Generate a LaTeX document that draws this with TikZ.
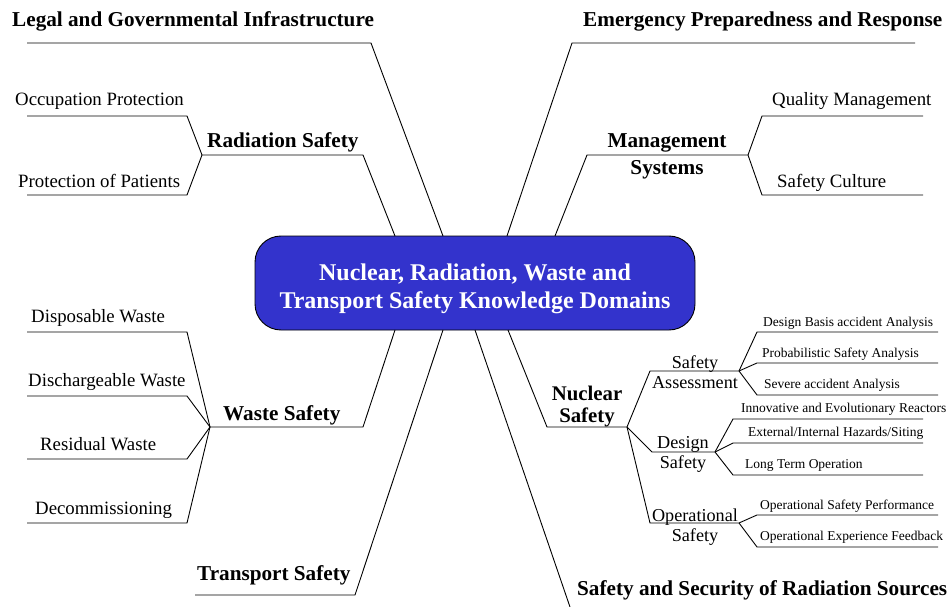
\documentclass[tikz,border=0pt]{standalone}
\usepackage{fontspec}
\setmainfont{Liberation Serif}
\definecolor{boxblue}{HTML}{3333CC}
\tikzset{
  conn/.style={draw=black, line width=0.9pt, line join=miter},
  topic/.style={font=\fontsize{21.2}{24}\selectfont\bfseries, inner sep=0pt},
  leaf/.style={font=\fontsize{18.8}{22}\selectfont, inner sep=0pt},
  subtopic/.style={inner sep=0pt, align=center},
  small/.style={font=\fontsize{13.5}{16}\selectfont, inner sep=0pt},
  centre/.style={draw=black, line width=0.9pt, fill=boxblue, rounded corners=26pt,
    minimum width=440pt, minimum height=94pt, inner sep=0pt},
  centretext/.style={text=white, align=center,
    font=\fontsize{24}{28}\selectfont\bfseries, inner sep=0pt}
}
\begin{document}
\begin{tikzpicture}[x=1pt,y=-1pt]
\useasboundingbox (0,0) rectangle (951,607);

% central node
\node[centre] (box) at (475,283) {};
\node[centretext, anchor=base] (boxtext) at (475,308) {Nuclear, Radiation, Waste and\\Transport Safety Knowledge Domains};

% attachment points on the box
\coordinate (bLegal) at (443,236);
\coordinate (bRad) at (395,236);
\coordinate (bEmer) at (507,236);
\coordinate (bMan) at (555,236);
\coordinate (bWaste) at (395,330);
\coordinate (bTrans) at (443,330);
\coordinate (bNuc) at (508,330);
\coordinate (bSec) at (475,330);

% ---- Legal and Governmental Infrastructure
\node[topic, anchor=base west] (legal) at (12,27) {Legal and Governmental Infrastructure};
\coordinate (legalL) at (27,43);
\coordinate (legalR) at (371,43);
\draw[conn] (bLegal) -- (legalR) -- (legalL);

% ---- Emergency Preparedness and Response
\node[topic, anchor=base west] (emer) at (583,27) {Emergency Preparedness and Response};
\coordinate (emerL) at (572,43);
\coordinate (emerR) at (915,43);
\draw[conn] (bEmer) -- (emerL) -- (emerR);

% ---- Radiation Safety
\node[topic, anchor=base west] (rad) at (207,148) {Radiation Safety};
\coordinate (radL) at (202,155);
\coordinate (radR) at (363,155);
\draw[conn] (bRad) -- (radR) -- (radL);
\node[leaf, anchor=base west] (occ) at (15,106) {Occupation Protection};
\coordinate (occR) at (187,116);
\coordinate (occL) at (27,116);
\draw[conn] (radL) -- (occR) -- (occL);
\node[leaf, anchor=base west] (pat) at (18,187) {Protection of Patients};
\coordinate (patR) at (187,195);
\coordinate (patL) at (27,195);
\draw[conn] (radL) -- (patR) -- (patL);

% ---- Management Systems
\node[topic, align=center, font=\fontsize{21.2}{27}\selectfont\bfseries, anchor=base] (man) at (667,175) {Management\\Systems};
\coordinate (manL) at (587,155);
\coordinate (manR) at (748,155);
\draw[conn] (bMan) -- (manL) -- (manR);
\node[leaf, anchor=base west] (qual) at (772,106) {Quality Management};
\coordinate (qualL) at (762,116);
\coordinate (qualR) at (923,116);
\draw[conn] (manR) -- (qualL) -- (qualR);
\node[leaf, anchor=base west] (cult) at (777,187) {Safety Culture};
\coordinate (cultL) at (762,195);
\coordinate (cultR) at (923,195);
\draw[conn] (manR) -- (cultL) -- (cultR);

% ---- Waste Safety
\node[topic, anchor=base west] (waste) at (223,420) {Waste Safety};
\coordinate (wasteL) at (210,427);
\coordinate (wasteR) at (363,427);
\draw[conn] (bWaste) -- (wasteR) -- (wasteL);
\node[leaf, anchor=base west] (disp) at (31,322) {Disposable Waste};
\coordinate (dispR) at (187,332);
\coordinate (dispL) at (27,332);
\draw[conn] (wasteL) -- (dispR) -- (dispL);
\node[leaf, anchor=base west] (disc) at (28,386) {Dischargeable Waste};
\coordinate (discR) at (187,396);
\coordinate (discL) at (27,396);
\draw[conn] (wasteL) -- (discR) -- (discL);
\node[leaf, anchor=base west] (resid) at (40,450) {Residual Waste};
\coordinate (residR) at (187,459);
\coordinate (residL) at (27,459);
\draw[conn] (wasteL) -- (residR) -- (residL);
\node[leaf, anchor=base west] (decom) at (35,514) {Decommissioning};
\coordinate (decomR) at (187,523);
\coordinate (decomL) at (27,523);
\draw[conn] (wasteL) -- (decomR) -- (decomL);

% ---- Transport Safety
\node[topic, anchor=base west] (trans) at (197,580) {Transport Safety};
\coordinate (transL) at (195,595);
\coordinate (transR) at (355,595);
\draw[conn] (bTrans) -- (transR) -- (transL);

% ---- Safety and Security of Radiation Sources
\node[topic, anchor=base west] (sec) at (577,595) {Safety and Security of Radiation Sources};
\coordinate (secEnd) at (570,607);
\draw[conn] (bSec) -- (secEnd);

% ---- Nuclear Safety
\node[topic, align=center, font=\fontsize{20.8}{22}\selectfont\bfseries, anchor=base] (nuc) at (587,422) {Nuclear\\Safety};
\coordinate (nucL) at (547,427);
\coordinate (nucR) at (627,427);
\draw[conn] (bNuc) -- (nucL) -- (nucR);

% Safety Assessment
\node[subtopic, font=\fontsize{18.2}{20}\selectfont, anchor=base] (sa) at (695,388) {Safety\\Assessment};
\coordinate (saL) at (650,371);
\coordinate (saR) at (739,371);
\draw[conn] (nucR) -- (saL) -- (saR);
\node[small, anchor=base west] (dba) at (763,326) {Design Basis accident Analysis};
\coordinate (dbaL) at (757,332);
\coordinate (dbaR) at (938,332);
\draw[conn] (saR) -- (dbaL) -- (dbaR);
\node[small, anchor=base west] (psa) at (762,357) {Probabilistic Safety Analysis};
\coordinate (psaL) at (757,363);
\coordinate (psaR) at (938,363);
\draw[conn] (saR) -- (psaL) -- (psaR);
\node[small, anchor=base west] (sev) at (764,388) {Severe accident Analysis};
\coordinate (sevL) at (757,395);
\coordinate (sevR) at (938,395);
\draw[conn] (saR) -- (sevL) -- (sevR);

% Design Safety
\node[subtopic, font=\fontsize{18.2}{20}\selectfont, anchor=base] (ds) at (683,468) {Design\\Safety};
\coordinate (dsL) at (652,452);
\coordinate (dsR) at (715,452);
\draw[conn] (nucR) -- (dsL) -- (dsR);
\node[small, anchor=base west] (inn) at (741,412) {Innovative and Evolutionary Reactors};
\coordinate (innL) at (733,419);
\coordinate (innR) at (923,419);
\draw[conn] (dsR) -- (innL) -- (innR);
\node[small, anchor=base west] (ext) at (748,436) {External/Internal Hazards/Siting};
\coordinate (extL) at (733,443);
\coordinate (extR) at (923,443);
\draw[conn] (dsR) -- (extL) -- (extR);
\node[small, anchor=base west] (lto) at (745,468) {Long Term Operation};
\coordinate (ltoL) at (733,475);
\coordinate (ltoR) at (923,475);
\draw[conn] (dsR) -- (ltoL) -- (ltoR);

% Operational Safety
\node[subtopic, font=\fontsize{18.2}{19.5}\selectfont, anchor=base] (os) at (695,541) {Operational\\Safety};
\coordinate (osL) at (650,523);
\coordinate (osR) at (739,523);
\draw[conn] (nucR) -- (osL) -- (osR);
\node[small, anchor=base west] (osp) at (760,509) {Operational Safety Performance};
\coordinate (ospL) at (757,515);
\coordinate (ospR) at (938,515);
\draw[conn] (osR) -- (ospL) -- (ospR);
\node[small, anchor=base west] (oef) at (760,540) {Operational Experience Feedback};
\coordinate (oefL) at (757,547);
\coordinate (oefR) at (938,547);
\draw[conn] (osR) -- (oefL) -- (oefR);

\end{tikzpicture}
\end{document}
